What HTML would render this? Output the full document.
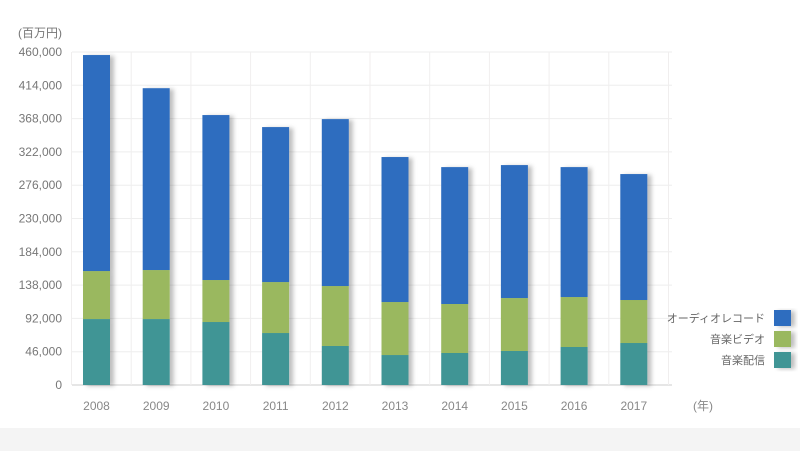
<!DOCTYPE html>
<html><head><meta charset="utf-8">
<style>
body{margin:0;background:#fff;}
svg{display:block;font-family:"Liberation Sans","Noto Sans CJK JP",sans-serif;}
</style></head>
<body>
<svg id="chart" width="800" height="451" viewBox="0 0 800 451">
<defs>
<filter id="sh" x="-30%" y="-10%" width="170%" height="130%"><feDropShadow dx="4" dy="1" stdDeviation="2" flood-color="#000" flood-opacity="0.25"/></filter>
</defs>
<rect x="0" y="0" width="800" height="451" fill="#fff"/>
<rect x="0" y="428" width="800" height="23" fill="#f4f4f4"/>
<g id="grid"></g>
<g id="bars"></g>
<g id="axes"></g>
<text x="18" y="37" font-size="12" fill="#777">(百万円)</text>
<text x="693" y="410" font-size="12" fill="#888">(年)</text>
<g>
<rect x="774" y="310" width="17" height="16" fill="#2d6dbf" filter="url(#sh)"/>
<text x="765" y="322" font-size="11" fill="#666" text-anchor="end">オーディオレコード</text>
<rect x="774" y="331" width="17" height="16" fill="#9ab85e" filter="url(#sh)"/>
<text x="765" y="343" font-size="11" fill="#666" text-anchor="end">音楽ビデオ</text>
<rect x="774" y="352" width="17" height="16" fill="#3f9595" filter="url(#sh)"/>
<text x="765" y="364" font-size="11" fill="#666" text-anchor="end">音楽配信</text>
</g>
</svg>
<script>
const years = ["2008","2009","2010","2011","2012","2013","2014","2015","2016","2017"];
const distribution = [91100,91100,87000,71800,53900,41400,44200,47000,52500,58000];
const video = [66300,67700,58000,70400,82800,73200,67700,73100,69000,59400];
const audio = [298400,251200,227900,214100,230600,200300,189100,183700,179500,174000];
const yTicks = [0,46000,92000,138000,184000,230000,276000,322000,368000,414000,460000];

const NS="http://www.w3.org/2000/svg";
const y0=385, y1=52, vmax=460000;
const ys=v=>y0-(v/vmax)*(y0-y1);
const cx=i=>96.5+i*59.7;
const bw=27;
function mk(tag,attrs,parent){const e=document.createElementNS(NS,tag);for(const k in attrs)e.setAttribute(k,attrs[k]);parent.appendChild(e);return e;}
const grid=document.getElementById('grid'),bars=document.getElementById('bars'),axes=document.getElementById('axes');
yTicks.forEach((t,i)=>{
  const l=mk('line',{x1:72,x2:672,y1:ys(t),y2:ys(t),stroke:i===0?'#ccc':'#eee','stroke-width':1},grid);
  
  
  const tx=mk('text',{x:62,y:ys(t)+4,'font-size':12,fill:'#777','text-anchor':'end'},axes);
  tx.textContent=t.toLocaleString('en-US');
  
  
});
for(let i=0;i<=years.length;i++){
  const x=cx(i)-30+5;
  const l=mk('line',{x1:x,x2:x,y1:y1,y2:y0,stroke:'#f0eeee','stroke-width':1},grid);
  
  
}
years.forEach((yr,i)=>{
  const g=mk('g',{filter:'url(#sh)'},bars);
  
  
  let base=0;
  [[distribution,'#3f9595','distribution'],[video,'#9ab85e','video'],[audio,'#2d6dbf','audio']].forEach(([arr,c,n])=>{
    const v=arr[i];
    const r=mk('rect',{x:cx(i)-bw/2,y:ys(base+v),width:bw,height:ys(base)-ys(base+v),fill:c},g);
    
    
    base+=v;
  });
  const tx=mk('text',{x:cx(i),y:410,'font-size':12,fill:'#888','text-anchor':'middle'},axes);
  tx.textContent=yr;
  
  
});
</script>
</body></html>
